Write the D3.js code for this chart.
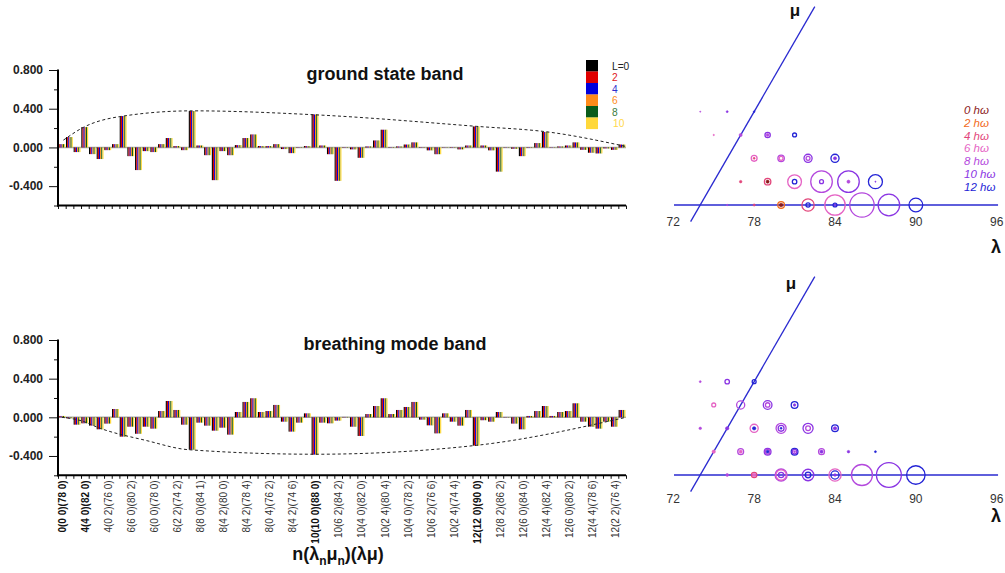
<!DOCTYPE html>
<html>
<head>
<meta charset="utf-8">
<script src="https://cdn.jsdelivr.net/npm/d3@7"></script>
<style>
  body { margin: 0; background: #fff; }
  svg { display: block; font-family: "Liberation Sans", Arial, Helvetica, sans-serif; }
</style>
</head>
<body>
<svg id="chart" width="1005" height="573"></svg>
<script>
// ---------- data ----------
// angular momenta of the band members, one bar per L in every basis-state group
const angMomenta = [0, 2, 4, 6, 8, 10];
const lColors = ["#000000", "#e00000", "#0000dd", "#ff8c1a", "#0a5c1a", "#ffd83a"];
const lTextColors = ["#222222", "#e02020", "#3030cc", "#ff8c1a", "#3a7a3a", "#ffd84a"];
const lLegendText = ["L=0", "2", "4", "6", "8", "10"];

// basis states n(λn μn)(λ μ); every third state carries a tick label
const stateCount = 74;
const stateLabels = [
  "0(0 0)(78 0)", "4(4 0)(82 0)", "4(0 2)(76 0)", "6(6 0)(80 2)", "6(0 0)(78 0)",
  "6(2 2)(74 2)", "8(8 0)(84 1)", "8(4 2)(80 0)", "8(4 2)(78 4)", "8(0 4)(76 2)",
  "8(4 2)(74 6)", "10(10 0)(88 0)", "10(6 2)(84 2)", "10(4 0)(82 0)", "10(2 4)(80 4)",
  "10(4 0)(78 2)", "10(6 2)(76 6)", "10(2 4)(74 4)", "12(12 0)(90 0)", "12(8 2)(86 2)",
  "12(6 0)(84 0)", "12(4 4)(82 4)", "12(6 0)(80 2)", "12(4 4)(78 6)", "12(2 2)(76 4)"
];
const boldLabels = ["0(0 0)(78 0)", "4(4 0)(82 0)", "10(10 0)(88 0)", "12(12 0)(90 0)"];

// amplitudes of each basis state in the ground state band
const groundAmp = [
  0.034, 0.107, -0.048, 0.210, -0.069, -0.120, -0.028, 0.034, 0.324, -0.090,
  -0.234, -0.038, -0.048, 0.034, 0.097, 0.014, -0.028, 0.376, 0.020, -0.080,
  -0.338, -0.038, -0.080, 0.024, 0.097, 0.134, 0.014, 0.014, 0.034, -0.017,
  -0.059, 0.004, 0.014, 0.341, 0.020, -0.070, -0.345, 0.004, -0.020, -0.107,
  0.010, 0.072, 0.183, 0.004, 0.010, 0.030, 0.052, -0.004, -0.030, -0.070,
  0.003, -0.004, -0.020, 0.020, 0.217, 0.020, -0.030, -0.250, 0.003, -0.014,
  -0.090, 0.004, 0.045, 0.160, 0.003, 0.010, 0.020, 0.052, -0.025, -0.055,
  -0.062, -0.010, -0.025, 0.030
];
// amplitudes of each basis state in the breathing mode band
const breathingAmp = [
  0.014, -0.010, -0.076, -0.062, -0.086, -0.124, -0.065, 0.086, -0.200, -0.097,
  -0.170, -0.097, -0.117, 0.065, 0.169, 0.076, -0.076, -0.335, -0.055, -0.086,
  -0.138, -0.107, -0.179, 0.055, 0.159, 0.197, 0.055, 0.065, 0.128, -0.045,
  -0.148, -0.055, 0.041, -0.386, -0.055, -0.062, -0.034, 0.004, -0.097, -0.193,
  0.034, 0.117, 0.197, 0.034, 0.076, 0.107, 0.159, -0.024, -0.083, -0.166,
  0.041, -0.045, -0.086, 0.076, -0.293, -0.030, -0.045, 0.055, 0.003, -0.065,
  -0.124, 0.014, 0.065, 0.117, 0.014, 0.055, 0.065, 0.145, -0.045, -0.097,
  -0.117, -0.045, -0.097, 0.076
];
// envelope through the leading components (state position, amplitude)
const groundEnvPos = [0.7, 3.3, 8.0, 17.5, 34.0, 54.5, 64.0, 74.0];
const groundEnvVal = [0.075, 0.207, 0.318, 0.378, 0.335, 0.218, 0.158, 0.010];
const breathEnvPos = [0.5, 3.0, 5.5, 11.5, 17.0, 33.5, 54.5, 74.0];
const breathEnvVal = [0.0, -0.035, -0.114, -0.240, -0.335, -0.382, -0.290, 0.0];

const yMajorTicks = [-0.4, 0.0, 0.4, 0.8];
const yMinorTicks = [-0.6, -0.2, 0.2, 0.6];

// SU(3) content (λ μ) per oscillator shell, ring size = amplitude
const shells = [0, 2, 4, 6, 8, 10, 12];
const shellColors = ["#8b1a1a", "#f26a1b", "#e2457a", "#e563c4", "#b449dd", "#8a34e3", "#2424d6"];
const lambdaTicks = [72, 78, 84, 90, 96];

const gsLam   = [76, 78, 80, 80, 82, 82, 84, 84, 84, 86, 88, 90,
                 76, 78, 78, 80, 80, 82, 82, 84, 84, 86, 86,
                 76, 76, 78, 78, 80, 80, 82, 82,
                 72, 74, 76, 76, 78, 70, 72, 74];
const gsMu    = [0, 0, 0, 0, 0, 0, 0, 0, 0, 0, 0, 0,
                 2, 2, 2, 2, 2, 2, 2, 2, 2, 2, 2,
                 4, 4, 4, 4, 4, 4, 4, 4,
                 6, 6, 6, 6, 6, 8, 8, 8];
const gsShell = [8, 4, 2, 0, 4, 12, 6, 12, 10, 8, 10, 12,
                 4, 4, 0, 6, 12, 8, 10, 10, 8, 12, 10,
                 6, 4, 8, 6, 10, 8, 12, 10,
                 6, 8, 10, 8, 12, 8, 10, 12];
const gsAmp   = [0.05, 0.08, 0.24, 0.13, 0.44, 0.15, 0.73, 0.14, 0.06, 0.87, 0.77, 0.49,
                 0.09, 0.23, 0.11, 0.49, 0.16, 0.77, 0.14, 0.77, 0.11, 0.50, 0.04,
                 0.21, 0.07, 0.23, 0.14, 0.29, 0.14, 0.29, 0.11,
                 0.05, 0.11, 0.19, 0.10, 0.14, 0.04, 0.07, 0.06];

const bmLam   = [76, 78, 78, 80, 80, 80, 82, 82, 82, 84, 84, 84, 86, 88, 90,
                 74, 76, 76, 78, 78, 78, 80, 80, 80, 82, 82, 84, 86,
                 72, 74, 76, 76, 78, 78, 78, 80, 80, 82, 82,
                 72, 74, 76, 76, 78, 78, 70, 72, 74];
const bmMu    = [0, 0, 0, 0, 0, 0, 0, 0, 0, 0, 0, 0, 0, 0, 0,
                 2, 2, 2, 2, 2, 2, 2, 2, 2, 2, 2, 2, 2,
                 4, 4, 4, 4, 4, 4, 4, 4, 4, 4, 4,
                 6, 6, 6, 6, 6, 6, 8, 8, 8];
const bmShell = [8, 4, 6, 8, 6, 10, 10, 12, 8, 6, 12, 10, 8, 10, 12,
                 6, 8, 6, 10, 8, 12, 12, 10, 8, 8, 10, 10, 12,
                 8, 10, 6, 12, 8, 10, 12, 10, 8, 12, 10,
                 6, 8, 10, 8, 12, 10, 8, 10, 12];
const bmAmp   = [0.10, 0.19, 0.13, 0.43, 0.37, 0.19, 0.41, 0.20, 0.07, 0.44, 0.29, 0.09, 0.75, 0.89, 0.66,
                 0.12, 0.21, 0.11, 0.24, 0.17, 0.10, 0.24, 0.16, 0.07, 0.21, 0.11, 0.09, 0.07,
                 0.09, 0.12, 0.29, 0.12, 0.36, 0.21, 0.07, 0.36, 0.17, 0.24, 0.12,
                 0.14, 0.29, 0.31, 0.16, 0.24, 0.09, 0.07, 0.16, 0.14];

// ---------- drawing ----------
const svg = d3.select("#chart");

// shared horizontal layout of the two bar panels
const xState = d3.scaleBand().domain(d3.range(stateCount)).range([58, 626]);
const xPos = d3.scaleLinear().domain([0, stateCount]).range([58, 626]);
const lBand = d3.scaleBand().domain(angMomenta).range([0.3, xState.bandwidth() * 0.93]);

function drawBarPanel(values, envPos, envVal, yTop, yBottom, title, titleX, titleY, withLabels) {
  const y = d3.scaleLinear().domain([-0.6, 0.8]).range([yBottom, yTop]);
  const g = svg.append("g");

  // zero line
  g.append("line")
    .attr("x1", 58).attr("x2", 626)
    .attr("y1", y(0)).attr("y2", y(0))
    .attr("stroke", "#a8a8a8").attr("stroke-width", 1.6);

  // bars: one group per basis state, one bar per L
  const groups = g.selectAll("g.state").data(values).join("g")
    .attr("class", "state")
    .attr("transform", (d, i) => `translate(${xState(i)},0)`);
  groups.selectAll("rect").data(v => angMomenta.map((L, j) => ({ L, j, v }))).join("rect")
    .attr("x", d => lBand(d.L))
    .attr("width", lBand.bandwidth())
    .attr("y", d => y(Math.max(d.v, 0)))
    .attr("height", d => Math.abs(y(d.v) - y(0)))
    .attr("fill", d => lColors[d.j]);

  // dashed envelope
  const env = envPos.map((p, i) => [p, envVal[i]]);
  g.append("path")
    .datum(env)
    .attr("fill", "none")
    .attr("stroke", "#222")
    .attr("stroke-width", 1)
    .attr("stroke-dasharray", "3,2.5")
    .attr("d", d3.line().x(d => xPos(d[0])).y(d => y(d[1])).curve(d3.curveMonotoneX));

  // y axis: labelled major ticks and short minor ticks
  const yAxis = g.append("g").attr("transform", "translate(58,0)")
    .call(d3.axisLeft(y).tickValues(yMajorTicks).tickSize(9).tickPadding(6)
      .tickFormat(d => d.toFixed(3)));
  yAxis.select(".domain").remove();
  yAxis.selectAll("line").attr("stroke", "#111");
  yAxis.selectAll("text")
    .attr("font-size", 12).attr("font-weight", "bold").attr("fill", "#222")
    .attr("font-family", "'Liberation Sans', Arial, sans-serif");
  const yMinor = g.append("g").attr("transform", "translate(58,0)")
    .call(d3.axisLeft(y).tickValues(yMinorTicks).tickSize(4).tickFormat(""));
  yMinor.select(".domain").remove();
  yMinor.selectAll("line").attr("stroke", "#111");

  // x axis ticks at every state boundary
  const xAxis = g.append("g").attr("transform", `translate(0,${yBottom})`)
    .call(d3.axisBottom(xPos).tickValues(d3.range(stateCount + 1)).tickSize(3.5).tickFormat(""));
  xAxis.select(".domain").remove();
  xAxis.selectAll("line").attr("stroke", "#111");

  // heavy frame lines
  g.append("line").attr("x1", 58).attr("x2", 58).attr("y1", yTop - 0.5).attr("y2", yBottom + 1)
    .attr("stroke", "#000").attr("stroke-width", 2);
  g.append("line").attr("x1", 57).attr("x2", 626).attr("y1", yBottom).attr("y2", yBottom)
    .attr("stroke", "#000").attr("stroke-width", 2);

  // title
  g.append("text")
    .attr("x", titleX).attr("y", titleY)
    .attr("text-anchor", "middle")
    .attr("font-size", 18).attr("font-weight", "bold").attr("fill", "#111")
    .text(title);

  if (withLabels) {
    stateLabels.forEach((lab, k) => {
      const cx = xState(3 * k) + xState.bandwidth() / 2 + 0.8;
      g.append("text")
        .attr("transform", `translate(${cx},${yBottom + 5}) rotate(-90)`)
        .attr("text-anchor", "end")
        .attr("dy", "0.35em")
        .attr("font-size", 10)
        .attr("font-weight", boldLabels.includes(lab) ? "bold" : "normal")
        .attr("fill", boldLabels.includes(lab) ? "#111" : "#333")
        .text(lab);
    });
  }
  return g;
}

drawBarPanel(groundAmp, groundEnvPos, groundEnvVal, 70, 205.5, "ground state band", 385, 80, false);
drawBarPanel(breathingAmp, breathEnvPos, breathEnvVal, 340, 475.3, "breathing mode band", 395, 350, true);

// L legend: colour swatches with labels beside them
const legend = svg.append("g");
angMomenta.forEach((L, j) => {
  legend.append("rect")
    .attr("x", 586).attr("y", 60 + j * 11.5)
    .attr("width", 12).attr("height", 11.6)
    .attr("fill", lColors[j]);
  legend.append("text")
    .attr("x", j === 5 ? 613 : 612).attr("y", 60 + j * 11.5 + 9.9)
    .attr("font-size", 10.2)
    .attr("fill", lTextColors[j])
    .text(lLegendText[j]);
});

// x axis title n(λn μn)(λμ)
const xt = svg.append("text")
  .attr("x", 338).attr("y", 560)
  .attr("text-anchor", "middle")
  .attr("font-size", 18).attr("font-weight", "bold").attr("fill", "#111");
xt.append("tspan").text("n(λ");
xt.append("tspan").attr("font-size", 12).attr("dy", 5).text("n");
xt.append("tspan").attr("dy", -5).text("μ");
xt.append("tspan").attr("font-size", 12).attr("dy", 5).text("n");
xt.append("tspan").attr("dy", -5).text(")(λμ)");

// ---------- SU(3) lattice panels ----------
const lamX = d3.scaleLinear().domain([72, 96]).range([673.3, 996.7]);
const muStep = (lamX(73) - lamX(72)) * Math.sqrt(3) / 2;
const ringR = d3.scaleLinear().domain([0, 1]).range([0, 14]);
const shellColor = d3.scaleOrdinal().domain(shells).range(shellColors);

function drawLattice(lam, mu, shell, amp, y0, tickBaseline, lamLabelY, muLabel) {
  const g = svg.append("g");
  const px = (l, m) => lamX(l + m / 2);
  const py = m => y0 - m * muStep;

  // λ axis (μ = 0) and μ axis (line λ = 74)
  g.append("line")
    .attr("x1", lamX(72.05)).attr("x2", lamX(96.1))
    .attr("y1", py(0)).attr("y2", py(0))
    .attr("stroke", "#2a2ad0").attr("stroke-width", 1.3);
  g.append("line")
    .attr("x1", px(74, -1.43)).attr("y1", py(-1.43))
    .attr("x2", px(74, 17)).attr("y2", py(17))
    .attr("stroke", "#2a2ad0").attr("stroke-width", 1.3);

  g.selectAll("text.tick").data(lambdaTicks).join("text")
    .attr("class", "tick")
    .attr("x", d => lamX(d)).attr("y", tickBaseline)
    .attr("text-anchor", "middle")
    .attr("font-size", 12).attr("fill", "#333")
    .text(d => d);

  g.append("text").attr("x", 996).attr("y", lamLabelY)
    .attr("text-anchor", "middle")
    .attr("font-size", 18).attr("font-weight", "bold").attr("fill", "#111").text("λ");
  g.append("text").attr("x", muLabel[0]).attr("y", muLabel[1])
    .attr("text-anchor", "middle")
    .attr("font-size", 17).attr("font-weight", "bold").attr("fill", "#111").text("μ");

  const rings = lam.map((l, i) => ({ l, m: mu[i], s: shell[i], a: amp[i] }))
    .sort((a, b) => b.a - a.a);
  g.selectAll("circle").data(rings).join("circle")
    .attr("cx", d => px(d.l, d.m))
    .attr("cy", d => py(d.m))
    .attr("r", d => ringR(d.a))
    .attr("fill", d => ringR(d.a) < 1.9 ? shellColor(d.s) : "none")
    .attr("stroke", d => shellColor(d.s))
    .attr("stroke-width", d => ringR(d.a) < 1.9 ? 0.6 : 1.3);
  return g;
}

drawLattice(gsLam, gsMu, gsShell, gsAmp, 205, 226, 253, [795, 16]);
drawLattice(bmLam, bmMu, bmShell, bmAmp, 475, 503, 522, [791, 289]);

// shell legend
const shellLegend = svg.append("g");
shells.forEach((s, i) => {
  shellLegend.append("text")
    .attr("x", 964).attr("y", 114.3 + i * 12.7)
    .attr("font-size", 11.5).attr("font-style", "italic")
    .attr("fill", shellColors[i])
    .text(`${s} hω`);
});
</script>
</body>
</html>
